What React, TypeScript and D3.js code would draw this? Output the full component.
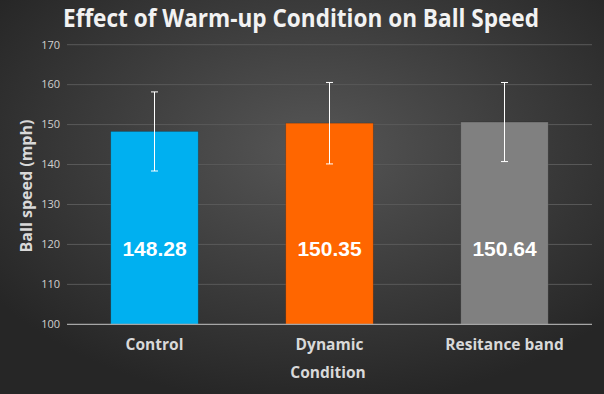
import React, { useEffect, useRef } from "react";
import * as d3 from "d3";

const categories = ["Control", "Dynamic", "Resitance band"];
const means = [148.28, 150.35, 150.64];
const errors = [9.9, 10.2, 9.9];
const colors = ["#00b0f0", "#ff6600", "#808080"];
const yTicks = [100, 110, 120, 130, 140, 150, 160, 170];

const App = () => {
  const svgRef = useRef<SVGSVGElement>(null);

  useEffect(() => {
    const width = 604, height = 394;
    const left = 67, right = 592, top = 44.7, bottom = 324.3;

    const svg = d3.select(svgRef.current)
      .attr("width", width)
      .attr("height", height);
    svg.selectAll("*").remove();

    const defs = svg.append("defs");
    const grad = defs.append("radialGradient")
      .attr("id", "bg")
      .attr("cx", "52%")
      .attr("cy", "38%")
      .attr("r", "65%");
    grad.append("stop").attr("offset", "0%").attr("stop-color", "#565656");
    grad.append("stop").attr("offset", "100%").attr("stop-color", "#262626");

    svg.append("rect")
      .attr("width", width)
      .attr("height", height)
      .attr("fill", "url(#bg)");

    const x = d3.scaleBand()
      .domain(categories)
      .range([left, right])
      .paddingInner(0.5)
      .paddingOuter(0.25);

    const y = d3.scaleLinear()
      .domain([100, 170])
      .range([bottom, top]);

    // gridlines
    svg.append("g")
      .selectAll("line")
      .data(yTicks.slice(1))
      .enter().append("line")
      .attr("x1", left)
      .attr("x2", right)
      .attr("y1", d => y(d))
      .attr("y2", d => y(d))
      .attr("stroke", "#595959")
      .attr("stroke-width", 1);

    // y tick labels
    svg.append("g")
      .selectAll("text")
      .data(yTicks)
      .enter().append("text")
      .attr("x", 60)
      .attr("y", d => y(d))
      .attr("dy", "0.35em")
      .attr("text-anchor", "end")
      .attr("font-family", "Open Sans")
      .attr("font-size", "11px")
      .attr("fill", "#d0d0d0")
      .text(d => d);

    // bars
    svg.append("g")
      .selectAll("rect")
      .data(means)
      .enter().append("rect")
      .attr("x", (d, i) => x(categories[i])!)
      .attr("y", d => y(d))
      .attr("width", x.bandwidth())
      .attr("height", d => bottom - y(d))
      .attr("fill", (d, i) => colors[i])
      .attr("stroke", "rgba(0,0,0,0.2)")
      .attr("stroke-width", 0.8);

    // axis line
    svg.append("line")
      .attr("x1", left)
      .attr("x2", right)
      .attr("y1", bottom)
      .attr("y2", bottom)
      .attr("stroke", "#a6a6a6")
      .attr("stroke-width", 1.2);

    // error bars
    const eb = svg.append("g")
      .selectAll("g")
      .data(means)
      .enter().append("g")
      .attr("stroke", "#ffffff")
      .attr("stroke-width", 1);
    const cx = (i: number) => x(categories[i])! + x.bandwidth() / 2;
    eb.append("line")
      .attr("x1", (d, i) => cx(i))
      .attr("x2", (d, i) => cx(i))
      .attr("y1", (d, i) => y(d + errors[i]))
      .attr("y2", (d, i) => y(d - errors[i]));
    eb.append("line")
      .attr("x1", (d, i) => cx(i) - 3.5)
      .attr("x2", (d, i) => cx(i) + 3.5)
      .attr("y1", (d, i) => y(d + errors[i]))
      .attr("y2", (d, i) => y(d + errors[i]));
    eb.append("line")
      .attr("x1", (d, i) => cx(i) - 3.5)
      .attr("x2", (d, i) => cx(i) + 3.5)
      .attr("y1", (d, i) => y(d - errors[i]))
      .attr("y2", (d, i) => y(d - errors[i]));

    // value labels, placed in the lower part of each bar
    svg.append("g")
      .selectAll("text")
      .data(means)
      .enter().append("text")
      .attr("x", (d, i) => cx(i))
      .attr("y", y(119))
      .attr("dy", "0.35em")
      .attr("text-anchor", "middle")
      .attr("font-family", "Liberation Sans, Arial")
      .attr("font-weight", "bold")
      .attr("font-size", "21px")
      .attr("fill", "#ffffff")
      .text(d => d.toFixed(2));

    // category labels
    svg.append("g")
      .selectAll("text")
      .data(categories)
      .enter().append("text")
      .attr("x", d => x(d)! + x.bandwidth() / 2)
      .attr("y", 350)
      .attr("text-anchor", "middle")
      .attr("font-family", "Open Sans")
      .attr("font-weight", "bold")
      .attr("font-size", "15.5px")
      .attr("fill", "#d9d9d9")
      .text(d => d);

    svg.append("text")
      .attr("x", 328)
      .attr("y", 378)
      .attr("text-anchor", "middle")
      .attr("font-family", "Open Sans")
      .attr("font-weight", "bold")
      .attr("font-size", "15.5px")
      .attr("fill", "#d9d9d9")
      .text("Condition");

    svg.append("text")
      .attr("transform", "rotate(-90)")
      .attr("x", -186)
      .attr("y", 26)
      .attr("dy", "0.35em")
      .attr("text-anchor", "middle")
      .attr("font-family", "Open Sans")
      .attr("font-weight", "bold")
      .attr("font-size", "16px")
      .attr("fill", "#d9d9d9")
      .text("Ball speed (mph)");

    svg.append("text")
      .attr("x", 301)
      .attr("y", 27)
      .attr("text-anchor", "middle")
      .attr("font-family", "Open Sans")
      .attr("font-weight", "bold")
      .attr("font-size", "25px")
      .attr("textLength", 476)
      .attr("lengthAdjust", "spacingAndGlyphs")
      .attr("fill", "#f2f2f2")
      .text("Effect of Warm-up Condition on Ball Speed");
  }, []);

  return (
    <svg ref={svgRef} style={{ position: "absolute", left: 0, top: 0, display: "block" }}></svg>
  );
};

export default App;
